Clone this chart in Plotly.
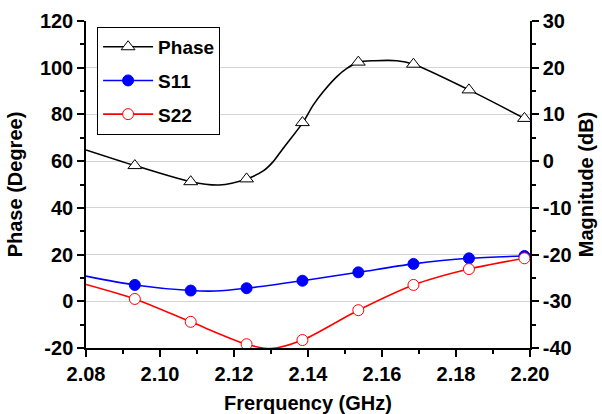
import plotly.graph_objects as go

# Phase curve (degrees, left axis)
phase_x = [2.080, 2.0932, 2.1083, 2.116, 2.1234, 2.1279, 2.1306, 2.1333, 2.1386, 2.1414,
           2.1441, 2.1478, 2.1505, 2.1536, 2.158, 2.164, 2.1685, 2.1835, 2.1985]
phase_y = [64.8, 58.1, 51.2, 49.8, 52.4, 55.8, 59.8, 65.5, 76.5, 84.0,
           89.7, 96.2, 99.7, 102.4, 103.0, 103.0, 101.5, 90.5, 78.3]

# S11 curve (dB, right axis)
s11_x = [2.080, 2.0932, 2.1083, 2.115, 2.1234, 2.1385, 2.1536, 2.1685, 2.1835, 2.1985]
s11_y = [-24.6, -26.5, -27.7, -27.8, -27.2, -25.6, -23.8, -22.0, -20.8, -20.3]

# S22 curve (dB, right axis)
s22_x = [2.080, 2.0932, 2.1083, 2.1234, 2.130, 2.1385, 2.1536, 2.1685, 2.1835, 2.1985]
s22_y = [-26.4, -29.5, -34.4, -39.2, -40.1, -38.3, -31.9, -26.5, -23.1, -20.8]

# Marker positions (sampled frequencies)
marker_x = [2.0932, 2.1083, 2.1234, 2.1385, 2.1536, 2.1685, 2.1835, 2.1985]
phase_m = [58.1, 51.2, 52.4, 76.5, 102.4, 101.5, 90.5, 78.3]
s11_m = [-26.5, -27.7, -27.2, -25.6, -23.8, -22.0, -20.8, -20.3]
s22_m = [-29.5, -34.4, -39.2, -38.3, -31.9, -26.5, -23.1, -20.8]

x_ticks = [2.08, 2.10, 2.12, 2.14, 2.16, 2.18, 2.20]
x_labels = ["2.08", "2.10", "2.12", "2.14", "2.16", "2.18", "2.20"]
left_ticks = [-20, 0, 20, 40, 60, 80, 100, 120]
left_labels = ["-20", "0", "20", "40", "60", "80", "100", "120"]
right_ticks = [-40, -30, -20, -10, 0, 10, 20, 30]
right_labels = ["-40", "-30", "-20", "-10", "0", "10", "20", "30"]

FONT = "Liberation Sans, Arial, sans-serif"
TICKFONT = dict(family=FONT, size=20, color="black", weight="bold")
TITLEFONT = dict(family=FONT, size=20, color="black", weight="bold")

series = [
    ("Phase", phase_x, phase_y, phase_m, "y", "black",
     dict(symbol="triangle-up", size=12, color="white", line=dict(color="black", width=1))),
    ("S11", s11_x, s11_y, s11_m, "y2", "blue",
     dict(symbol="circle", size=11, color="blue", line=dict(color="blue", width=1))),
    ("S22", s22_x, s22_y, s22_m, "y2", "red",
     dict(symbol="circle", size=11, color="white", line=dict(color="red", width=1))),
]

fig = go.Figure()
for name, cx, cy, my, yax, col, mk in series:
    fig.add_trace(go.Scatter(x=cx, y=cy, mode="lines", yaxis=yax,
                             line=dict(color=col, width=1.6, shape="spline", smoothing=0.8),
                             showlegend=False, legendgroup=name, hoverinfo="skip"))
    fig.add_trace(go.Scatter(x=marker_x, y=my, mode="markers", yaxis=yax,
                             marker=mk, showlegend=False, legendgroup=name))
    fig.add_trace(go.Scatter(x=[None], y=[None], mode="lines+markers", yaxis=yax, name=name,
                             line=dict(color=col, width=1.6), marker=mk,
                             legendgroup=name, showlegend=True))

fig.update_layout(
    width=602, height=414,
    margin=dict(l=86, r=72, t=21, b=66),
    plot_bgcolor="white", paper_bgcolor="white",
    font=dict(family=FONT, size=19, color="black", weight="bold"),
    xaxis=dict(
        range=[2.08, 2.20], tickvals=x_ticks, ticktext=x_labels, tickfont=TICKFONT,
        ticks="outside", ticklen=7, tickwidth=1.5, tickcolor="black", automargin=False,
        showline=True, linecolor="black", linewidth=1.5, showgrid=False, zeroline=False,
        minor=dict(ticks="outside", ticklen=4, tickwidth=1.5, tickcolor="black", dtick=0.01, showgrid=False),
        title=dict(text="Frerquency (GHz)", standoff=20, font=TITLEFONT),
    ),
    xaxis2=dict(
        range=[2.08, 2.20], overlaying="x", side="top", automargin=False,
        tickvals=x_ticks, showticklabels=False,
        ticks="inside", ticklen=7, tickwidth=1.5, tickcolor="black",
        showline=True, linecolor="black", linewidth=1.5, showgrid=False, zeroline=False,
        minor=dict(ticks="inside", ticklen=4, tickwidth=1.5, tickcolor="black", dtick=0.01, showgrid=False),
    ),
    yaxis=dict(
        range=[-20, 120], tickvals=left_ticks, ticktext=left_labels, tickfont=TICKFONT,
        ticks="outside", ticklen=7, tickwidth=1.5, tickcolor="black", automargin=False,
        showline=True, linecolor="black", linewidth=1.5,
        showgrid=True, gridcolor="#d4d4d4", gridwidth=1, zeroline=False,
        minor=dict(ticks="outside", ticklen=4, tickwidth=1.5, tickcolor="black", dtick=10, showgrid=False),
        title=dict(text="Phase (Degree)", standoff=12, font=TITLEFONT),
    ),
    yaxis2=dict(
        range=[-40, 30], tickvals=right_ticks, ticktext=right_labels, tickfont=TICKFONT,
        overlaying="y", side="right", automargin=False,
        ticks="outside", ticklen=7, tickwidth=1.5, tickcolor="black",
        showline=True, linecolor="black", linewidth=1.5, showgrid=False, zeroline=False,
        minor=dict(ticks="outside", ticklen=4, tickwidth=1.5, tickcolor="black", dtick=5, showgrid=False),
        title=dict(text="Magnitude (dB)", standoff=8, font=TITLEFONT),
    ),
    legend=dict(x=0.025, y=0.982, xanchor="left", yanchor="top",
                bgcolor="white", bordercolor="black", borderwidth=1,
                font=dict(family=FONT, size=19, color="black", weight="bold"),
                itemwidth=50, tracegroupgap=6),
)

fig.write_html("out.html")
